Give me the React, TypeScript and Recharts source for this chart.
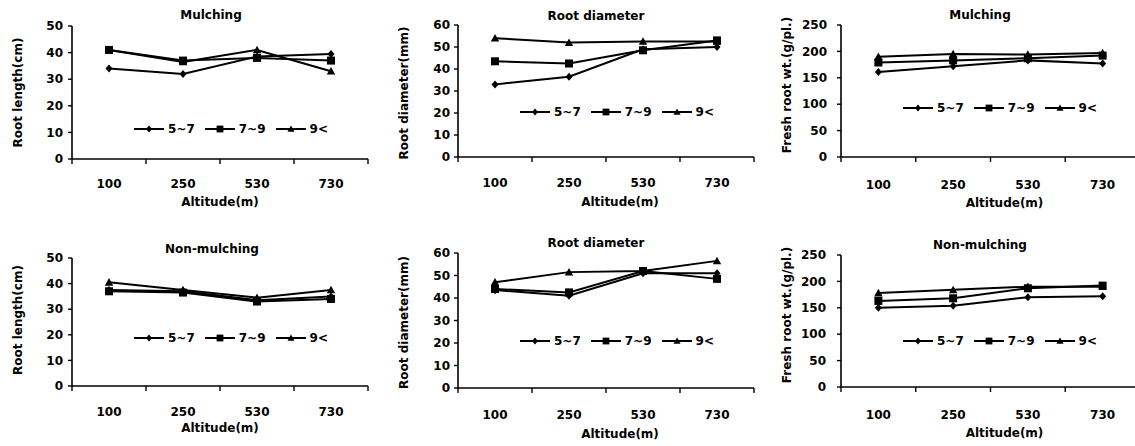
import React from 'react';
import { LineChart, Line, XAxis, YAxis, Legend } from 'recharts';

const FONT = '"DejaVu Sans", "Noto Sans", sans-serif';

const ALTITUDES = ['100', '250', '530', '730'];
const SIZE_CLASSES = ['5~7', '7~9', '9<'];

// Root length (cm), mulching
const LEN_MULCH_5_7 = [34, 32, 38.5, 39.5];
const LEN_MULCH_7_9 = [41, 37, 38, 37];
const LEN_MULCH_9 = [41, 36.5, 41, 33];
// Root diameter (mm), mulching
const DIA_MULCH_5_7 = [33, 36.5, 49, 50];
const DIA_MULCH_7_9 = [43.5, 42.5, 48.5, 53];
const DIA_MULCH_9 = [54, 52, 52.5, 52.5];
// Fresh root wt. (g/pl.), mulching
const WT_MULCH_5_7 = [161, 172, 183, 177];
const WT_MULCH_7_9 = [179, 183, 187, 192];
const WT_MULCH_9 = [190, 195, 194, 197];
// Root length (cm), non-mulching
const LEN_NON_5_7 = [37.5, 37, 33.5, 35];
const LEN_NON_7_9 = [37, 36.5, 33, 34];
const LEN_NON_9 = [40.5, 37.5, 34.5, 37.5];
// Root diameter (mm), non-mulching
const DIA_NON_5_7 = [43.5, 41, 51, 51];
const DIA_NON_7_9 = [44, 42.5, 52, 48.5];
const DIA_NON_9 = [47, 51.5, 52, 56.5];
// Fresh root wt. (g/pl.), non-mulching
const WT_NON_5_7 = [150, 154, 170, 172];
const WT_NON_7_9 = [163, 168, 187, 192];
const WT_NON_9 = [178, 184, 190, 190];

const LEN_TICKS = [0, 10, 20, 30, 40, 50];
const DIA_TICKS = [0, 10, 20, 30, 40, 50, 60];
const WT_TICKS = [0, 50, 100, 150, 200, 250];

const SERIES = [
  { key: 's1', name: SIZE_CLASSES[0], shape: 'diamond' },
  { key: 's2', name: SIZE_CLASSES[1], shape: 'square' },
  { key: 's3', name: SIZE_CLASSES[2], shape: 'triangle' },
];

const buildRows = (a: number[], b: number[], c: number[]) =>
  ALTITUDES.map((alt, i) => ({ altitude: alt, s1: a[i], s2: b[i], s3: c[i] }));

const Marker = ({ shape, cx, cy, small }: any) => {
  if (cx == null || cy == null) return null;
  const k = small ? 0.85 : 1;
  if (shape === 'diamond') {
    const w = 3.5 * k, h = 4 * k;
    return <polygon points={`${cx},${cy - h} ${cx + w},${cy} ${cx},${cy + h} ${cx - w},${cy}`} fill="#000" />;
  }
  if (shape === 'square') {
    const s = 4 * k;
    return <rect x={cx - s} y={cy - s} width={2 * s} height={2 * s} fill="#000" />;
  }
  const w = 4.2 * k, h = 4.2 * k;
  return <polygon points={`${cx},${cy - h} ${cx + w},${cy + h * 0.8} ${cx - w},${cy + h * 0.8}`} fill="#000" />;
};

const LegendContent = ({ payload }: any) => (
  <div style={{ display: 'flex', alignItems: 'center', fontFamily: FONT, fontWeight: 'bold', fontSize: 12, lineHeight: '12px', whiteSpace: 'nowrap', color: '#000' }}>
    {(payload || []).map((entry: any, i: number) => {
      const s = SERIES.find((x) => x.key === entry.dataKey) || SERIES[i];
      return (
        <div key={i} style={{ display: 'flex', alignItems: 'center', marginRight: 10 }}>
          <svg width={30} height={12} style={{ display: 'block' }}>
            <line x1={0} y1={6} x2={30} y2={6} stroke="#000" strokeWidth={2} />
            <Marker shape={s.shape} cx={15} cy={6} small />
          </svg>
          <span style={{ marginLeft: 4 }}>{entry.value}</span>
        </div>
      );
    })}
  </div>
);

const AXIS_STYLE = { stroke: '#000', strokeWidth: 1.6 };
const TICK_STYLE = { fill: '#000', fontSize: 12, fontWeight: 'bold', fontFamily: FONT };
const X_TICK_SIZE = 4;
const X_MARK_LEN = 5;

// Category tick: label at the category centre, tick marks at the band boundaries (Excel style)
const CategoryTick = (props: any) => {
  const { x, y, payload, index, visibleTicksCount, width, gap } = props;
  const count = visibleTicksCount || ALTITUDES.length;
  const half = payload && payload.offset ? payload.offset : width / (2 * count);
  const ay = y - gap;
  const last = index === count - 1;
  return (
    <g>
      <line x1={x - half} y1={ay} x2={x - half} y2={ay + X_MARK_LEN} stroke="#000" strokeWidth={1.4} />
      {last && <line x1={x + half} y1={ay} x2={x + half} y2={ay + X_MARK_LEN} stroke="#000" strokeWidth={1.4} />}
      <text x={x} y={y} dy="0.71em" textAnchor="middle" {...TICK_STYLE}>
        {payload.value}
      </text>
    </g>
  );
};

const Panel = (p: any) => {
  const max = p.ticks[p.ticks.length - 1];
  const gap = X_TICK_SIZE + p.xtm;
  return (
    <>
      <div style={{ position: 'absolute', left: p.left, top: p.top, width: p.width, height: 223 }}>
        <LineChart width={p.width} height={223} data={p.data} margin={{ top: p.mt, right: p.mr, left: 0, bottom: 0 }}>
          <XAxis
            dataKey="altitude"
            type="category"
            scale="band"
            axisLine={AXIS_STYLE}
            tickLine={false}
            tickSize={X_TICK_SIZE}
            tickMargin={p.xtm}
            height={p.xh}
            interval={0}
            tick={(tp: any) => <CategoryTick key={`t-${tp.index}`} {...tp} gap={gap} />}
            label={{ value: 'Altitude(m)', position: 'insideTop', offset: p.xlo, dx: p.xldx, fill: '#000', fontSize: 12, fontWeight: 'bold', fontFamily: FONT }}
          />
          <YAxis
            domain={[0, max]}
            ticks={p.ticks}
            interval={0}
            width={72}
            tickSize={4}
            tickMargin={p.ytm}
            axisLine={AXIS_STYLE}
            tickLine={{ stroke: '#000', strokeWidth: 1.4 }}
            tick={TICK_STYLE}
            label={{ value: p.yLabel, angle: -90, position: 'center', dx: -18, dy: p.yldy, fill: '#000', fontSize: 12, fontWeight: 'bold', fontFamily: FONT }}
          />
          <Legend
            layout="horizontal"
            verticalAlign="middle"
            align="center"
            content={<LegendContent />}
            wrapperStyle={{ left: p.lgl, top: p.lgt, width: 'auto', height: 'auto' }}
          />
          {SERIES.map((s) => (
            <Line
              key={s.key}
              type="linear"
              dataKey={s.key}
              name={s.name}
              stroke="#000"
              strokeWidth={2}
              isAnimationActive={false}
              dot={(d: any) => <Marker key={`${s.key}-${d.index}`} shape={s.shape} cx={d.cx} cy={d.cy} />}
              activeDot={false}
            />
          ))}
        </LineChart>
      </div>
      <div style={{ position: 'absolute', left: p.tx - 100, top: p.ty - 8, width: 200, height: 16, lineHeight: '16px', textAlign: 'center', fontFamily: FONT, fontWeight: 'bold', fontSize: 12, color: '#000' }}>
        {p.title}
      </div>
    </>
  );
};

const PANELS = [
  { left: 0, top: 0, width: 380, mt: 26, mr: 12, xh: 64, ytm: 5, xtm: 16, xlo: 38, xldx: 0, lgl: 134, lgt: 123, title: 'Mulching', tx: 211, ty: 15, yLabel: 'Root length(cm)', yldy: 0, ticks: LEN_TICKS, data: buildRows(LEN_MULCH_5_7, LEN_MULCH_7_9, LEN_MULCH_9) },
  { left: 386, top: 0, width: 380, mt: 25, mr: 12, xh: 66, ytm: 4, xtm: 17, xlo: 40, xldx: 14, lgl: 134, lgt: 106, title: 'Root diameter', tx: 596, ty: 16, yLabel: 'Root diameter(mm)', yldy: 2, ticks: DIA_TICKS, data: buildRows(DIA_MULCH_5_7, DIA_MULCH_7_9, DIA_MULCH_9) },
  { left: 769, top: 0, width: 371, mt: 25, mr: 0, xh: 66, ytm: 10, xtm: 19, xlo: 41.5, xldx: 14, lgl: 134, lgt: 102, title: 'Mulching', tx: 980, ty: 15, yLabel: 'Fresh root wt.(g/pl.)', yldy: -6, ticks: WT_TICKS, data: buildRows(WT_MULCH_5_7, WT_MULCH_7_9, WT_MULCH_9) },
  { left: 0, top: 223, width: 380, mt: 35, mr: 12, xh: 60, ytm: 5, xtm: 17, xlo: 37.5, xldx: 0, lgl: 134, lgt: 109, title: 'Non-mulching', tx: 212, ty: 249, yLabel: 'Root length(cm)', yldy: -2, ticks: LEN_TICKS, data: buildRows(LEN_NON_5_7, LEN_NON_7_9, LEN_NON_9) },
  { left: 386, top: 223, width: 380, mt: 30, mr: 12, xh: 58, ytm: 4, xtm: 18.5, xlo: 41, xldx: 14, lgl: 134, lgt: 112, title: 'Root diameter', tx: 596, ty: 243, yLabel: 'Root diameter(mm)', yldy: 2, ticks: DIA_TICKS, data: buildRows(DIA_NON_5_7, DIA_NON_7_9, DIA_NON_9) },
  { left: 769, top: 223, width: 371, mt: 32, mr: 0, xh: 59, ytm: 11, xtm: 19, xlo: 41, xldx: 14, lgl: 134, lgt: 112, title: 'Non-mulching', tx: 980, ty: 245, yLabel: 'Fresh root wt.(g/pl.)', yldy: -6, ticks: WT_TICKS, data: buildRows(WT_NON_5_7, WT_NON_7_9, WT_NON_9) },
];

export default function App() {
  return (
    <div style={{ position: 'absolute', left: 0, top: 0, width: 1135, height: 446, overflow: 'hidden', background: '#fff' }}>
      {PANELS.map((p, i) => (
        <Panel key={i} {...p} />
      ))}
    </div>
  );
}
